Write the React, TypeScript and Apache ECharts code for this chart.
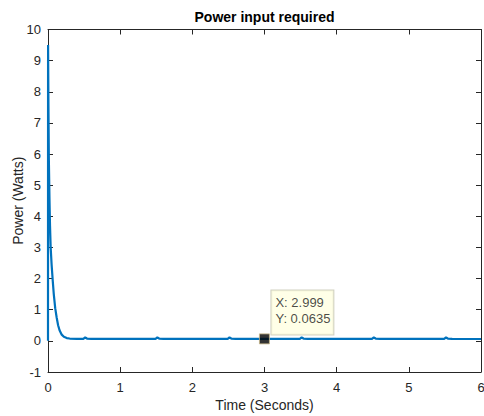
import React, { useEffect, useRef } from "react";
import * as echarts from "echarts";

const TIME = [0, 0.001, 0.006, 0.012, 0.02, 0.028, 0.037, 0.05, 0.065, 0.08, 0.1, 0.12, 0.14, 0.16, 0.19, 0.22, 0.26, 0.3, 0.4, 0.49, 0.515, 0.54, 0.6, 0.8, 1.0, 1.2, 1.49, 1.515, 1.54, 1.6, 2.0, 2.49, 2.515, 2.54, 2.6, 2.999, 3.2, 3.49, 3.515, 3.54, 3.6, 4.0, 4.49, 4.515, 4.54, 4.6, 5.0, 5.49, 5.515, 5.54, 5.6, 6.0];
const POWER = [0, 9.5, 7.6, 5.8, 4.6, 3.7, 3.0, 2.45, 1.95, 1.5, 1.05, 0.75, 0.5, 0.34, 0.2, 0.13, 0.09, 0.075, 0.065, 0.065, 0.11, 0.075, 0.065, 0.063, 0.063, 0.063, 0.063, 0.11, 0.075, 0.064, 0.063, 0.063, 0.11, 0.075, 0.064, 0.0635, 0.063, 0.063, 0.11, 0.075, 0.064, 0.063, 0.063, 0.11, 0.075, 0.064, 0.063, 0.063, 0.11, 0.075, 0.064, 0.06];
const TIP_X = 2.999;
const TIP_Y = 0.0635;
const X_MIN = 0, X_MAX = 6, Y_MIN = -1, Y_MAX = 10;

const FONT = "'Liberation Sans', Arial, Helvetica, sans-serif";
const INK = "#262626";

export default function App() {
  const ref = useRef<HTMLDivElement>(null);
  useEffect(() => {
    const chart = echarts.init(ref.current!, null, { renderer: "svg" });
    const axisCommon = {
      axisLine: { show: true, onZero: false, lineStyle: { color: INK, width: 1 } },
      axisTick: { show: true, inside: true, length: 5, lineStyle: { color: INK } },
      splitLine: { show: false },
    };
    chart.setOption({
      animation: false,
      backgroundColor: "#ffffff",
      title: {
        text: "Power input required",
        left: 264.5,
        textAlign: "center",
        top: 10,
        padding: 0,
        textStyle: { fontFamily: FONT, fontSize: 14, fontWeight: "bold", color: "#000" },
      },
      grid: { left: 48, right: 3, top: 29.5, bottom: 44, containLabel: false, outerBoundsMode: "none" },
      xAxis: [
        {
          type: "value", min: X_MIN, max: X_MAX, interval: 1, position: "bottom",
          name: "Time (Seconds)", nameLocation: "middle", nameGap: 26, nameMoveOverlap: false,
          nameTextStyle: { fontFamily: FONT, fontSize: 14, color: INK },
          axisLabel: { fontFamily: FONT, fontSize: 13, color: INK, margin: 9 },
          ...axisCommon,
        },
        {
          type: "value", min: X_MIN, max: X_MAX, interval: 1, position: "top",
          axisLabel: { show: false },
          ...axisCommon,
        },
      ],
      yAxis: [
        {
          type: "value", min: Y_MIN, max: Y_MAX, interval: 1, position: "left",
          name: "Power (Watts)", nameLocation: "middle", nameGap: 23, nameMoveOverlap: false,
          nameTextStyle: { fontFamily: FONT, fontSize: 14, color: INK },
          axisLabel: { fontFamily: FONT, fontSize: 13, color: INK, margin: 7 },
          ...axisCommon,
        },
        {
          type: "value", min: Y_MIN, max: Y_MAX, interval: 1, position: "right",
          axisLabel: { show: false },
          ...axisCommon,
        },
      ],
      series: [
        {
          type: "line",
          data: TIME.map((t, i) => [t, POWER[i]]),
          showSymbol: false,
          symbol: "none",
          lineStyle: { color: "#0072BD", width: 2.2 },
          z: 2,
        },
        {
          type: "scatter",
          data: [[TIP_X, TIP_Y]],
          symbol: "rect",
          symbolSize: 10,
          itemStyle: { color: "#000", borderColor: "#C8B88A", borderWidth: 1 },
          z: 5,
          label: {
            show: true,
            position: [12.5, -43],
            align: "left",
            verticalAlign: "top",
            formatter: `X: ${TIP_X}\nY: ${TIP_Y}`,
            fontFamily: FONT,
            fontSize: 13,
            lineHeight: 16,
            color: "#1a1a1a",
            backgroundColor: "#FFFFE1",
            borderColor: "#C4C4B0",
            borderWidth: 1,
            padding: [4, 3, 8, 4],
          },
        },
      ],
    });
    return () => chart.dispose();
  }, []);
  return <div ref={ref} style={{ width: 484, height: 416, position: "absolute", left: 0, top: 0 }} />;
}
